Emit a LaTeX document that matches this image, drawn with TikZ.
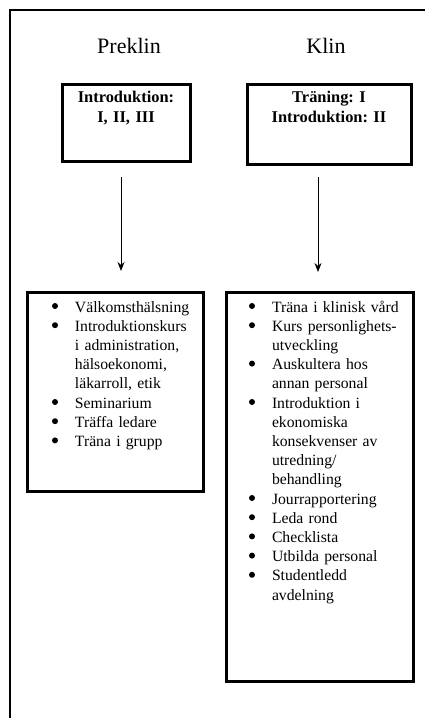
\documentclass[tikz,border=0pt]{standalone}
\usepackage{fontspec}
\setmainfont{Liberation Serif}
\usetikzlibrary{arrows.meta}
\frenchspacing

% one bullet item of a list, hanging indent for the rest of its lines
\newcommand\punkt[1]{\noindent\hangindent=23pt\hangafter=1%
  \makebox[23pt][l]{\tikz[baseline=-6pt]\fill (0,0) circle (3pt);}#1\par}

\begin{document}
\begin{tikzpicture}[
        x=1pt, y=-1pt,
        every node/.style={outer sep=0pt, inner sep=0pt},
        rubrik/.style={anchor=base, font=\fontsize{22}{26}\selectfont},
        fas/.style={draw, line width=3pt, anchor=north west, text width=#1, align=center, font=\bfseries\fontsize{16.4}{20}\selectfont},
        lista/.style={draw, line width=3pt, anchor=north west, text width=#1, align=left, text height=20pt, font=\fontsize{15.7}{19.2}\selectfont},
        pil/.style={line width=1pt, -{Stealth[length=9pt, width=7pt]}}
    ]
        \useasboundingbox (0,0) rectangle (425,718);
        \draw[line width=1.5pt] (10,718) -- (10,10) -- (425,10);

        \node[rubrik] (pre) at (129,53) {Preklin};
        \node[rubrik] (klin) at (326,53) {Klin};

        \node[fas=128pt, text height=18pt, text depth=59pt] (preintro) at (62,84) {Introduktion:\\ I, II, III};
        \node[fas=164pt, text height=18pt, text depth=62pt] (klinintro) at (247,84) {Träning: I\\ Introduktion: II};

        \node[lista=176pt, text depth=179pt] (prelist) at (27,292) {\setlength\leftskip{25pt}%
            \punkt{Välkomsthälsning}
            \punkt{Introduktionskurs\newline i administration,\newline hälsoekonomi,\newline läkarroll, etik}
            \punkt{Seminarium}
            \punkt{Träffa ledare}
            \punkt{Träna i grupp}};
        \node[lista=187pt, text depth=369pt] (klinlist) at (226,292) {\setlength\leftskip{23pt}%
            \punkt{Träna i klinisk vård}
            \punkt{Kurs personlighets-\newline utveckling}
            \punkt{Auskultera hos\newline annan personal}
            \punkt{Introduktion i\newline ekonomiska\newline konsekvenser av\newline utredning/\newline behandling}
            \punkt{Jourrapportering}
            \punkt{Leda rond}
            \punkt{Checklista}
            \punkt{Utbilda personal}
            \punkt{Studentledd\newline avdelning}};

        \draw[pil, shorten <=16pt, shorten >=21pt] ([xshift=-5pt]preintro.south) -- ([xshift=-5pt]preintro.south |- prelist.north);
        \draw[pil, shorten <=13pt, shorten >=20pt] ([xshift=-11pt]klinintro.south) -- ([xshift=-11pt]klinintro.south |- klinlist.north);

    \end{tikzpicture}
\end{document}
